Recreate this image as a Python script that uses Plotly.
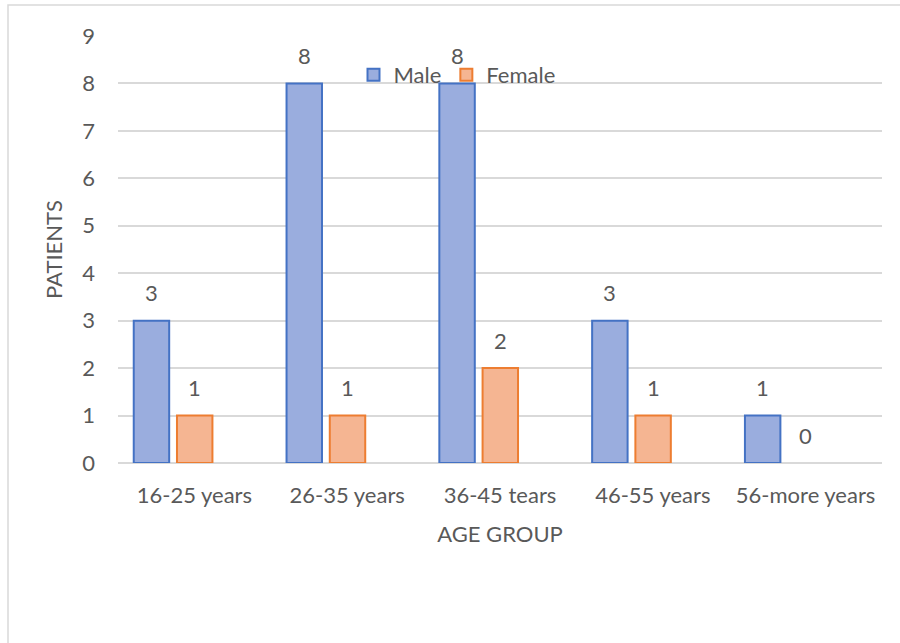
import plotly.graph_objects as go

# Patients by age group and sex
age_groups = ["16-25 years", "26-35 years", "36-45 tears", "46-55 years", "56-more years"]
male = [3, 8, 8, 3, 1]
female = [1, 1, 2, 1, 0]
y_ticks = [0, 1, 2, 3, 4, 5, 6, 7, 8, 9]

W, H = 900, 643
L, R, T, B = 118, 18, 36, 180
PW, PH = W - L - R, H - T - B

FONT = "Lato, Carlito, sans-serif"
GREY = "#595959"
GRID = "#D9D9D9"

BAR_W = 0.232
MALE_OFF = -0.397
FEMALE_OFF = -0.114
CAT_PX = PW / len(age_groups)


def outline_widths(vals):
    # zero-height bars get no outline
    return [2 if v > 0 else 0 for v in vals]


fig = go.Figure()
fig.add_trace(go.Bar(
    x=age_groups, y=male, name="Male",
    offset=MALE_OFF, width=BAR_W,
    marker=dict(color="#9AADDE", line=dict(color="#4472C4", width=outline_widths(male))),
))
fig.add_trace(go.Bar(
    x=age_groups, y=female, name="Female",
    offset=FEMALE_OFF, width=BAR_W,
    marker=dict(color="#F5B592", line=dict(color="#ED7D31", width=outline_widths(female))),
))

# value labels above each bar
for off, vals in ((MALE_OFF, male), (FEMALE_OFF, female)):
    shift = (off + BAR_W / 2) * CAT_PX
    for cat, v in zip(age_groups, vals):
        fig.add_annotation(
            x=cat, y=v, text=str(v), showarrow=False,
            xshift=shift, yshift=28, yanchor="middle",
            font=dict(family=FONT, size=22, color=GREY),
        )


# chart-area frame
def px_x(p):
    return (p - L) / PW


def px_y(p):
    return (H - B - p) / PH


fig.add_shape(
    type="rect", xref="paper", yref="paper",
    x0=px_x(8), x1=px_x(W + 10), y0=px_y(H + 10), y1=px_y(5),
    line=dict(color=GRID, width=1.5), fillcolor="rgba(0,0,0,0)", layer="below",
)

fig.update_layout(
    width=W, height=H,
    margin=dict(l=L, r=R, t=T, b=B),
    paper_bgcolor="white", plot_bgcolor="white",
    font=dict(family=FONT, color=GREY),
    showlegend=True,
    legend=dict(
        orientation="h", x=px_x(457), xanchor="center",
        y=px_y(75), yanchor="middle",
        font=dict(family=FONT, size=22, color=GREY),
        bgcolor="rgba(0,0,0,0)", itemwidth=30, traceorder="normal",
    ),
    xaxis=dict(
        type="category", showgrid=False, showline=False, zeroline=False,
        ticks="", tickfont=dict(family=FONT, size=22, color=GREY),
        ticklabelstandoff=17,
        title=dict(text="AGE GROUP", font=dict(family=FONT, size=22, color=GREY), standoff=19),
    ),
    yaxis=dict(
        range=[0, 9], tickvals=y_ticks, showgrid=True, gridcolor=GRID, gridwidth=1.5,
        zeroline=True, zerolinecolor=GRID, zerolinewidth=1.5,
        showline=False, ticks="",
        tickfont=dict(family=FONT, size=22, color=GREY),
        ticklabelstandoff=22,
        title=dict(text="PATIENTS", font=dict(family=FONT, size=22, color=GREY), standoff=13),
    ),
)

fig.write_html("out.html")
